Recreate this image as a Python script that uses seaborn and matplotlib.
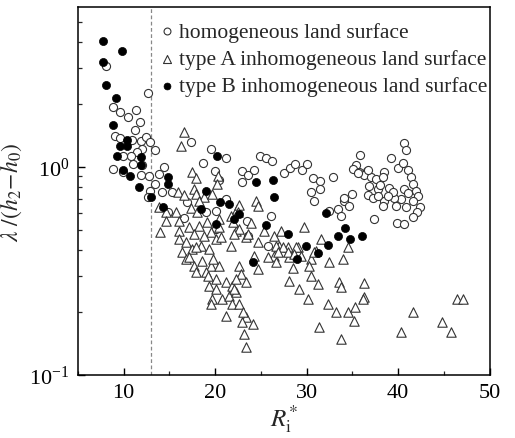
import matplotlib
matplotlib.use("Agg")
import matplotlib.pyplot as plt
import seaborn as sns
import pandas as pd
import numpy as np
from matplotlib.ticker import MultipleLocator, LogLocator

# ---------------- data ----------------
homo_x = [8.12, 12.72, 8.89, 9.65, 10.53, 11.41, 11.85, 11.30, 9.11, 9.65, 10.97, 11.95,
          12.50, 12.94, 13.49, 12.06, 11.52, 10.86, 9.98, 11.08, 12.06, 8.89, 9.98, 11.95,
          12.83, 14.47, 13.82, 13.49, 12.94, 14.15, 12.72, 17.32, 19.51, 21.15, 18.64, 19.95,
          22.91, 22.91, 16.88, 20.06, 18.96, 21.15, 16.56, 15.24, 23.46, 14.91, 20.06, 20.39,
          24.88, 25.54, 26.19, 23.57, 24.22, 27.51, 28.17, 28.71, 29.48, 30.03, 30.68, 31.45,
          31.45, 30.47, 30.79, 32.87, 35.83, 35.40, 35.07, 35.72, 36.60, 36.27, 37.04, 37.58,
          36.82, 36.71, 37.25, 37.80, 38.02, 38.46, 38.35, 39.23, 39.99, 40.54, 40.65, 40.87,
          41.09, 41.42, 41.64, 41.96, 42.18, 42.40, 42.07, 41.64, 40.87, 40.32, 39.77, 39.55,
          39.01, 39.44, 38.46, 38.35, 38.89, 37.80, 40.65, 41.09, 39.88, 40.65, 37.36, 34.08,
          34.63, 34.96, 34.08, 33.42, 33.75, 32.44, 26.08, 25.76, 23.57, 41.64, 35.62, 36.71]
homo_y = [3.06, 2.27, 1.94, 1.84, 1.74, 1.88, 1.65, 1.51, 1.41, 1.38, 1.35, 1.33,
          1.39, 1.32, 1.21, 1.22, 1.18, 1.13, 1.13, 1.03, 1.02, 0.978, 0.946, 0.915,
          0.905, 1.00, 0.925, 0.829, 0.767, 0.758, 0.718, 1.32, 1.22, 1.105, 1.045, 0.957,
          0.957, 0.847, 0.679, 0.614, 0.608, 0.702, 0.569, 0.758, 0.550, 0.608, 0.503, 0.866,
          1.13, 1.105, 1.07, 0.915, 0.967, 0.936, 0.989, 1.03, 0.967, 1.03, 0.885, 0.856,
          0.784, 0.758, 0.687, 0.895, 1.14, 1.02, 0.978, 0.946, 0.957, 0.915, 0.895, 0.876,
          0.810, 0.733, 0.710, 0.784, 0.820, 0.946, 0.895, 1.105, 0.989, 1.045, 1.30, 1.21,
          0.967, 0.895, 0.829, 0.767, 0.726, 0.642, 0.608, 0.575, 0.642, 0.702, 0.649, 0.710,
          0.793, 0.758, 0.687, 0.649, 0.726, 0.726, 0.784, 0.750, 0.538, 0.532, 0.562, 0.687,
          0.649, 0.742, 0.710, 0.628, 0.581, 0.614, 0.581, 0.417, 0.466, 0.687, 0.936, 0.967]

typeA_x = [16.56, 16.23, 17.43, 17.87, 20.28, 20.17, 15.90, 16.56, 17.65, 17.87, 18.75, 19.62,
           18.20, 17.32, 17.98, 13.82, 14.69, 15.68, 14.69, 16.01, 13.93, 16.01, 17.10, 18.20,
           19.07, 20.39, 21.70, 22.36, 20.39, 19.51, 18.75, 17.65, 16.01, 16.78, 16.34, 17.43,
           18.42, 19.29, 20.06, 20.61, 21.70, 22.25, 23.35, 16.78, 17.65, 18.53, 19.51, 20.39,
           18.96, 17.87, 20.06, 19.29, 20.06, 21.15, 21.81, 22.58, 22.80, 22.25, 23.35, 19.62,
           19.51, 20.72, 21.48, 22.25, 21.81, 22.58, 21.15, 23.35, 22.91, 23.13, 23.35, 17.10,
           17.87, 19.73, 19.18, 24.44, 24.66, 23.89, 22.58, 22.47, 21.92, 22.58, 22.03, 23.57,
           24.22, 24.66, 22.03, 23.02, 24.11, 26.41, 27.18, 29.70, 26.96, 27.95, 29.04, 26.41,
           26.63, 28.06, 29.37, 30.47, 31.01, 31.56, 30.25, 32.44, 28.06, 29.15, 30.47, 31.23,
           30.14, 32.33, 33.20, 33.53, 33.75, 31.34, 33.75, 34.52, 33.97, 34.52, 25.32, 24.66,
           26.63, 27.40, 28.82, 26.85, 27.95, 28.60, 30.79, 25.76, 28.49, 36.27, 36.27, 36.16,
           35.29, 35.18, 41.64, 40.32, 44.81, 45.79, 46.45, 47.11]
typeA_y = [1.47, 1.26, 0.946, 0.885, 0.905, 0.829, 0.758, 0.733, 0.784, 0.742, 0.718, 0.742,
           0.687, 0.635, 0.608, 0.642, 0.608, 0.608, 0.550, 0.550, 0.487, 0.492, 0.515, 0.520,
           0.544, 0.562, 0.581, 0.628, 0.515, 0.487, 0.466, 0.476, 0.451, 0.436, 0.390, 0.403,
           0.417, 0.403, 0.451, 0.461, 0.417, 0.492, 0.461, 0.361, 0.334, 0.353, 0.334, 0.334,
           0.313, 0.313, 0.290, 0.268, 0.259, 0.280, 0.268, 0.334, 0.306, 0.290, 0.280, 0.232,
           0.219, 0.232, 0.240, 0.251, 0.219, 0.219, 0.192, 0.190, 0.180, 0.157, 0.136, 0.369,
           0.412, 0.361, 0.299, 0.687, 0.649, 0.538, 0.656, 0.608, 0.544, 0.503, 0.476, 0.476,
           0.373, 0.323, 0.259, 0.201, 0.176, 0.466, 0.492, 0.515, 0.417, 0.412, 0.412, 0.373,
           0.349, 0.369, 0.373, 0.361, 0.394, 0.451, 0.334, 0.349, 0.283, 0.259, 0.299, 0.274,
           0.232, 0.219, 0.201, 0.280, 0.265, 0.170, 0.149, 0.201, 0.361, 0.412, 0.492, 0.436,
           0.417, 0.412, 0.412, 0.390, 0.390, 0.382, 0.390, 0.369, 0.327, 0.277, 0.237, 0.232,
           0.212, 0.182, 0.201, 0.161, 0.180, 0.161, 0.232, 0.232]

typeB_x = [7.79, 9.87, 7.79, 8.12, 9.22, 8.89, 9.65, 10.42, 10.42, 9.33, 9.98, 10.75, 11.95,
           11.95, 11.74, 13.05, 14.91, 14.91, 14.36, 20.17, 18.96, 20.50, 21.48, 22.58, 22.03,
           18.42, 20.06, 24.44, 26.30, 26.41, 25.54, 27.95, 29.92, 28.93, 24.11, 31.23, 32.11,
           32.33, 33.42, 34.19, 34.74, 36.05]
typeB_y = [4.03, 3.61, 3.20, 2.48, 2.15, 1.59, 1.26, 1.35, 1.26, 1.13, 0.967, 0.905, 1.12,
           1.02, 0.80, 0.718, 0.895, 0.829, 0.642, 1.13, 0.767, 0.679, 0.664, 0.594, 0.562,
           0.628, 0.532, 0.847, 0.866, 0.718, 0.526, 0.476, 0.417, 0.361, 0.349, 0.386, 0.601,
           0.422, 0.466, 0.509, 0.451, 0.466]

series_labels = ["homogeneous land surface",
                 "type A inhomogeneous land surface",
                 "type B inhomogeneous land surface"]
ri_threshold = 13.0
x_ticks = [10, 20, 30, 40, 50]

# ---------------- plotting ----------------
sns.set_theme(style="ticks")
plt.rcParams["font.family"] = ["Liberation Serif", "DejaVu Serif"]
plt.rcParams["mathtext.fontset"] = "stix"

fig = plt.figure(figsize=(5.15, 4.39), dpi=100)
ax = fig.add_axes([0.151, 0.1435, 0.80, 0.8385])

dfh = pd.DataFrame({"x": homo_x, "y": homo_y})
dfa = pd.DataFrame({"x": typeA_x, "y": typeA_y})
dfb = pd.DataFrame({"x": typeB_x, "y": typeB_y})

sns.scatterplot(data=dfh, x="x", y="y", ax=ax, marker="o", s=34,
                facecolor="white", edgecolor="#333333", linewidth=0.8,
                label=series_labels[0], zorder=3)
sns.scatterplot(data=dfa, x="x", y="y", ax=ax, marker="^", s=46,
                facecolor="white", edgecolor="#333333", linewidth=0.8,
                label=series_labels[1], zorder=3)
sns.scatterplot(data=dfb, x="x", y="y", ax=ax, marker="o", s=34,
                color="black", edgecolor="black", linewidth=0.5,
                label=series_labels[2], zorder=4)

ax.axvline(ri_threshold, color="#888888", linestyle=(0, (3, 2)), linewidth=0.9, zorder=1)

ax.set_yscale("log")
ax.set_xlim(5, 50)
ax.set_ylim(0.1, 5.88)
ax.set_xticks(x_ticks)
ax.xaxis.set_minor_locator(MultipleLocator(5))
ax.yaxis.set_major_locator(LogLocator(base=10, numticks=10))
ax.yaxis.set_minor_locator(LogLocator(base=10, subs=np.arange(2, 10), numticks=20))

ax.tick_params(axis="both", which="major", direction="in", length=5, width=1.0,
               labelsize=16, colors="black", pad=6)
ax.tick_params(axis="both", which="minor", direction="in", length=3, width=0.9)
for sp in ax.spines.values():
    sp.set_linewidth(1.1)
    sp.set_color("black")

ax.set_xlabel(r"$R_{\mathrm{i}}^{*}$", fontsize=18, labelpad=0)
ax.set_ylabel(r"$\lambda\ /(h_2\!-\!h_0)$", fontsize=17)
ax.yaxis.set_label_coords(-0.13, 0.5)

leg = ax.legend(loc="upper left", bbox_to_anchor=(0.155, 1.0), frameon=False,
                fontsize=15.5, handletextpad=0.05, labelspacing=0.33,
                borderaxespad=0.3, markerscale=0.85, handlelength=1.0)

fig.savefig("out.png", dpi=100)
